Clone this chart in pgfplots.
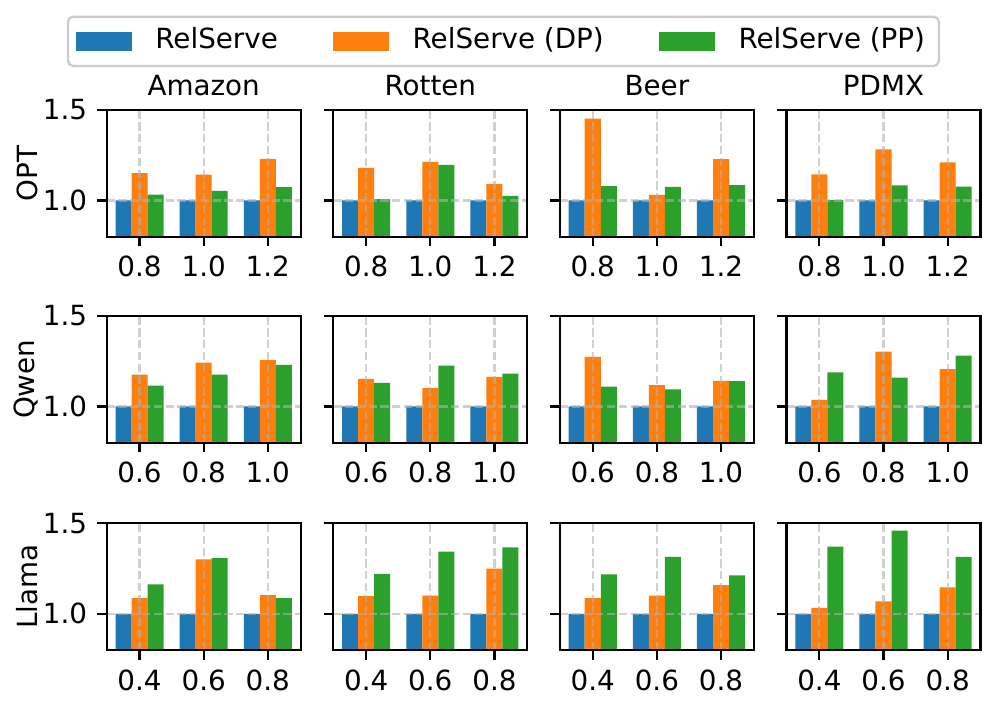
\documentclass[border=0pt]{standalone}
\usepackage{pgfplots}
\pgfplotsset{compat=1.18}
\usepackage{fontspec}
\setmainfont{DejaVu Sans}

\definecolor{tabblue}{HTML}{1F77B4}
\definecolor{taborange}{HTML}{FF7F0E}
\definecolor{tabgreen}{HTML}{2CA02C}
\definecolor{gridgray}{HTML}{B0B0B0}
\definecolor{legedge}{HTML}{CCCCCC}

\pgfplotsset{
  panel/.style={
    scale only axis, width=69.84pt, height=45.6pt,
    anchor=north west,
    ybar, bar width=0.25,
    xmin=-0.5125, xmax=2.5125, ymin=0.8, ymax=1.5,
    xtick={0,1,2}, ytick={1,1.5},
    tick pos=left, tick align=outside,
    major tick length=3.5pt,
    every tick/.style={black, line width=0.8pt},
    axis line style={line width=0.8pt},
    xmajorgrids, ymajorgrids,
    major grid style={gridgray, opacity=0.6, line width=0.8pt, dash pattern=on 2.96pt off 1.28pt},
    axis on top,
    font=\fontsize{10}{12}\selectfont,
    tick label style={font=\fontsize{10}{12}\selectfont},
    title style={font=\fontsize{10}{12}\selectfont, at={(0.5,1)}, anchor=base, yshift=-0.8pt},
    ylabel style={font=\fontsize{10}{12}\selectfont, yshift=-5pt},
    every axis plot post/.append style={draw=none,
      legend image code/.code={\fill[##1, draw=none, sharp corners] (0pt,-3.35pt) rectangle (20pt,3.35pt);
        \path[draw=none, fill=none] (0pt,0pt) -- (26.5pt,0pt);}},
  },
  firstcol/.style={yticklabels={1.0,1.5}},
  othercol/.style={yticklabels={}},
}

\begin{document}
\begin{tikzpicture}
\useasboundingbox (0,0) rectangle (358.56pt,-255.6pt);

% ---------- row 1: OPT ----------
\begin{axis}[panel, firstcol, at={(38.41pt,-39.6pt)}, title={Amazon}, ylabel={OPT},
  xticklabels={0.8,1.0,1.2},
  legend columns=3,
  legend style={at={(2.045,1.542)}, anchor=center, draw=legedge, line width=0.8pt,
    rounded corners=2pt, font=\fontsize{10}{12}\selectfont,
    nodes={inner ysep=1.9pt, text height=7.6pt, text depth=2.4pt},
    /tikz/every even column/.append style={column sep=18pt}}]
\addplot[fill=tabblue, bar shift=-0.25] coordinates {(0,1.0) (1,1.0) (2,1.0)};
\addplot[fill=taborange, bar shift=0] coordinates {(0,1.151) (1,1.143) (2,1.230)};
\addplot[fill=tabgreen, bar shift=0.25] coordinates {(0,1.033) (1,1.053) (2,1.074)};
\legend{RelServe, RelServe (DP), RelServe (PP)}
\end{axis}

\begin{axis}[panel, othercol, at={(119.99pt,-39.6pt)}, title={Rotten}, xticklabels={0.8,1.0,1.2}]
\addplot[fill=tabblue, bar shift=-0.25] coordinates {(0,1.0) (1,1.0) (2,1.0)};
\addplot[fill=taborange, bar shift=0] coordinates {(0,1.180) (1,1.213) (2,1.090)};
\addplot[fill=tabgreen, bar shift=0.25] coordinates {(0,1.007) (1,1.197) (2,1.026)};
\end{axis}

\begin{axis}[panel, othercol, at={(201.56pt,-39.6pt)}, title={Beer}, xticklabels={0.8,1.0,1.2}]
\addplot[fill=tabblue, bar shift=-0.25] coordinates {(0,1.0) (1,1.0) (2,1.0)};
\addplot[fill=taborange, bar shift=0] coordinates {(0,1.452) (1,1.031) (2,1.228)};
\addplot[fill=tabgreen, bar shift=0.25] coordinates {(0,1.079) (1,1.075) (2,1.085)};
\end{axis}

\begin{axis}[panel, othercol, at={(283.14pt,-39.6pt)}, title={PDMX}, xticklabels={0.8,1.0,1.2}]
\addplot[fill=tabblue, bar shift=-0.25] coordinates {(0,1.0) (1,1.0) (2,1.0)};
\addplot[fill=taborange, bar shift=0] coordinates {(0,1.145) (1,1.283) (2,1.211)};
\addplot[fill=tabgreen, bar shift=0.25] coordinates {(0,1.002) (1,1.083) (2,1.077)};
\end{axis}

% ---------- row 2: Qwen ----------
\begin{axis}[panel, firstcol, at={(38.41pt,-113.76pt)}, ylabel={Qwen}, xticklabels={0.6,0.8,1.0}]
\addplot[fill=tabblue, bar shift=-0.25] coordinates {(0,1.0) (1,1.0) (2,1.0)};
\addplot[fill=taborange, bar shift=0] coordinates {(0,1.176) (1,1.243) (2,1.256)};
\addplot[fill=tabgreen, bar shift=0.25] coordinates {(0,1.116) (1,1.176) (2,1.230)};
\end{axis}

\begin{axis}[panel, othercol, at={(119.99pt,-113.76pt)}, xticklabels={0.6,0.8,1.0}]
\addplot[fill=tabblue, bar shift=-0.25] coordinates {(0,1.0) (1,1.0) (2,1.0)};
\addplot[fill=taborange, bar shift=0] coordinates {(0,1.153) (1,1.101) (2,1.164)};
\addplot[fill=tabgreen, bar shift=0.25] coordinates {(0,1.131) (1,1.226) (2,1.182)};
\end{axis}

\begin{axis}[panel, othercol, at={(201.56pt,-113.76pt)}, xticklabels={0.6,0.8,1.0}]
\addplot[fill=tabblue, bar shift=-0.25] coordinates {(0,1.0) (1,1.0) (2,1.0)};
\addplot[fill=taborange, bar shift=0] coordinates {(0,1.274) (1,1.118) (2,1.142)};
\addplot[fill=tabgreen, bar shift=0.25] coordinates {(0,1.110) (1,1.094) (2,1.140)};
\end{axis}

\begin{axis}[panel, othercol, at={(283.14pt,-113.76pt)}, xticklabels={0.6,0.8,1.0}]
\addplot[fill=tabblue, bar shift=-0.25] coordinates {(0,1.0) (1,1.0) (2,1.0)};
\addplot[fill=taborange, bar shift=0] coordinates {(0,1.037) (1,1.303) (2,1.206)};
\addplot[fill=tabgreen, bar shift=0.25] coordinates {(0,1.188) (1,1.160) (2,1.281)};
\end{axis}

% ---------- row 3: Llama ----------
\begin{axis}[panel, firstcol, at={(38.41pt,-188.39pt)}, ylabel={Llama}, xticklabels={0.4,0.6,0.8}]
\addplot[fill=tabblue, bar shift=-0.25] coordinates {(0,1.0) (1,1.0) (2,1.0)};
\addplot[fill=taborange, bar shift=0] coordinates {(0,1.087) (1,1.301) (2,1.103)};
\addplot[fill=tabgreen, bar shift=0.25] coordinates {(0,1.162) (1,1.308) (2,1.087)};
\end{axis}

\begin{axis}[panel, othercol, at={(119.99pt,-188.39pt)}, xticklabels={0.4,0.6,0.8}]
\addplot[fill=tabblue, bar shift=-0.25] coordinates {(0,1.0) (1,1.0) (2,1.0)};
\addplot[fill=taborange, bar shift=0] coordinates {(0,1.098) (1,1.101) (2,1.249)};
\addplot[fill=tabgreen, bar shift=0.25] coordinates {(0,1.221) (1,1.343) (2,1.367)};
\end{axis}

\begin{axis}[panel, othercol, at={(201.56pt,-188.39pt)}, xticklabels={0.4,0.6,0.8}]
\addplot[fill=tabblue, bar shift=-0.25] coordinates {(0,1.0) (1,1.0) (2,1.0)};
\addplot[fill=taborange, bar shift=0] coordinates {(0,1.087) (1,1.101) (2,1.159)};
\addplot[fill=tabgreen, bar shift=0.25] coordinates {(0,1.218) (1,1.314) (2,1.212)};
\end{axis}

\begin{axis}[panel, othercol, at={(283.14pt,-188.39pt)}, xticklabels={0.4,0.6,0.8}]
\addplot[fill=tabblue, bar shift=-0.25] coordinates {(0,1.0) (1,1.0) (2,1.0)};
\addplot[fill=taborange, bar shift=0] coordinates {(0,1.033) (1,1.068) (2,1.146)};
\addplot[fill=tabgreen, bar shift=0.25] coordinates {(0,1.371) (1,1.459) (2,1.314)};
\end{axis}

\end{tikzpicture}
\end{document}
